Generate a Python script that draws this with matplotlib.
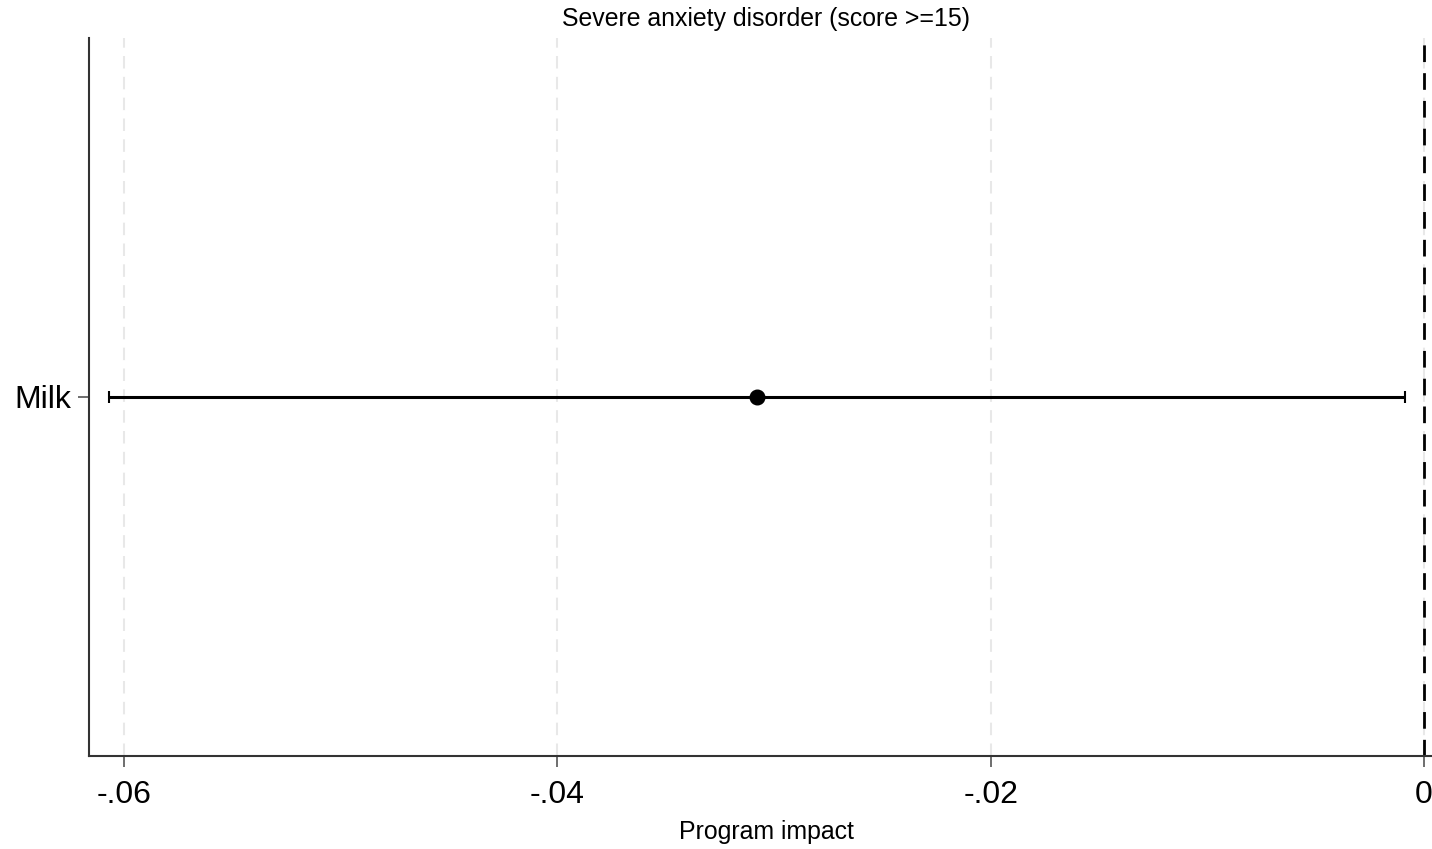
import matplotlib
matplotlib.use("Agg")
import matplotlib.pyplot as plt

plt.rcParams['font.family'] = ['Liberation Sans', 'DejaVu Sans']

# Coefficient and 95% CI
labels = ["Milk"]
estimate = [-0.03081]
ci_low = [-0.0607]
ci_high = [-0.00088]
xticks = [-0.06, -0.04, -0.02, 0.0]
xtick_labels = ["-.06", "-.04", "-.02", "0"]

fig = plt.figure(figsize=(14.32, 8.49), dpi=100)
ax = fig.add_axes([89 / 1432, 1 - 756 / 849, (1444 - 89) / 1432, (756 - 38) / 849])

ypos = list(range(1, len(labels) + 1))
for y, est, lo, hi in zip(ypos, estimate, ci_low, ci_high):
    ax.errorbar([est], [y], xerr=[[est - lo], [hi - est]], fmt='o', color='black',
                markersize=10.5, elinewidth=2.2, capsize=4, capthick=1.5, zorder=3)

ax.axvline(0, color='black', linestyle=(0, (6, 4)), linewidth=2, zorder=2)

ax.set_xlim(-0.06162, 0.00092)
ax.set_ylim(0, 2)
ax.set_xticks(xticks)
ax.set_xticklabels(xtick_labels, fontsize=23)
ax.set_yticks(ypos)
ax.set_yticklabels(labels, fontsize=23)
ax.tick_params(axis='both', direction='out', length=8, width=1.2, color='#555555')
ax.tick_params(axis='x', pad=9)
ax.tick_params(axis='y', pad=5)

ax.grid(axis='x', color='#e8e8e8', linestyle=(0, (6, 4)), linewidth=1.5, zorder=0)
ax.set_axisbelow(True)

for side in ['top', 'right']:
    ax.spines[side].set_visible(False)
for side in ['left', 'bottom']:
    ax.spines[side].set_linewidth(1.5)
    ax.spines[side].set_color('#333333')

fig.text((89 + 1444) / 2 / 1432, 1 - 19 / 849, "Severe anxiety disorder (score >=15)",
         ha='center', va='center', fontsize=17.9)
fig.text((89 + 1444) / 2 / 1432, 1 - 832 / 849, "Program impact",
         ha='center', va='center', fontsize=17.9)

fig.savefig("out.png", dpi=100)
